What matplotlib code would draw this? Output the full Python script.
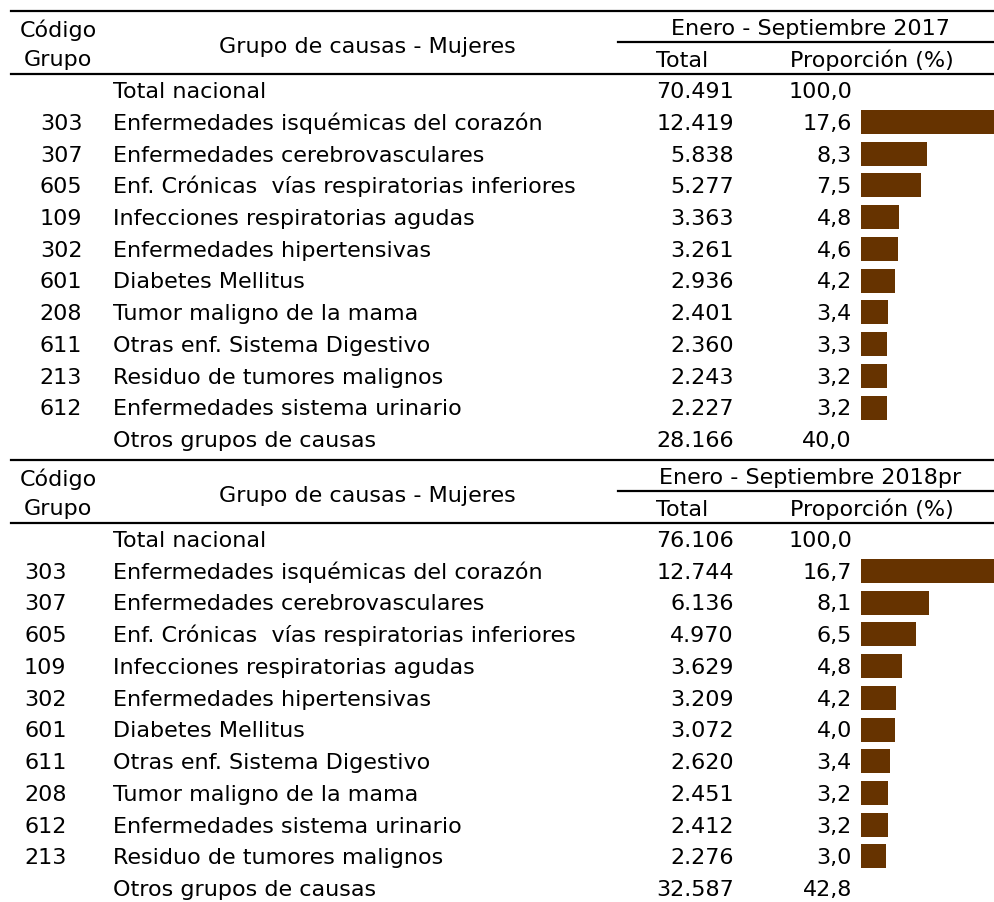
import matplotlib
matplotlib.use("Agg")
import matplotlib.pyplot as plt

# data
causes_2017 = ["Total nacional", "Enfermedades isquémicas del corazón", "Enfermedades cerebrovasculares",
               "Enf. Crónicas  vías respiratorias inferiores", "Infecciones respiratorias agudas",
               "Enfermedades hipertensivas", "Diabetes Mellitus", "Tumor maligno de la mama",
               "Otras enf. Sistema Digestivo", "Residuo de tumores malignos",
               "Enfermedades sistema urinario", "Otros grupos de causas"]
codes_2017 = ["", "303", "307", "605", "109", "302", "601", "208", "611", "213", "612", ""]
totals_2017 = [70491, 12419, 5838, 5277, 3363, 3261, 2936, 2401, 2360, 2243, 2227, 28166]
props_2017 = [100.0, 17.6, 8.3, 7.5, 4.8, 4.6, 4.2, 3.4, 3.3, 3.2, 3.2, 40.0]

causes_2018 = ["Total nacional", "Enfermedades isquémicas del corazón", "Enfermedades cerebrovasculares",
               "Enf. Crónicas  vías respiratorias inferiores", "Infecciones respiratorias agudas",
               "Enfermedades hipertensivas", "Diabetes Mellitus", "Otras enf. Sistema Digestivo",
               "Tumor maligno de la mama", "Enfermedades sistema urinario",
               "Residuo de tumores malignos", "Otros grupos de causas"]
codes_2018 = ["", "303", "307", "605", "109", "302", "601", "611", "208", "612", "213", ""]
totals_2018 = [76106, 12744, 6136, 4970, 3629, 3209, 3072, 2620, 2451, 2412, 2276, 32587]
props_2018 = [100.0, 16.7, 8.1, 6.5, 4.8, 4.2, 4.0, 3.4, 3.2, 3.2, 3.0, 42.8]

plt.rcParams['font.family'] = ['DejaVu Sans']
FS = 16
BAR = '#663300'

fig = plt.figure(figsize=(9.94, 9.03), dpi=100)
ax = fig.add_axes([0, 0, 1, 1])
ax.set_xlim(0, 994)
ax.set_ylim(903, 0)
ax.axis('off')


def fmt_total(n):
    return f"{n:,}".replace(",", ".")


def fmt_prop(p):
    return f"{p:.1f}".replace(".", ",")


def draw_table(y0, period, codes, causes, totals, props, code_left):
    # header lines
    ax.plot([11, 994], [y0, y0], color='black', lw=1.6)
    ax.plot([618, 994], [y0 + 31, y0 + 31], color='black', lw=1.6)
    ax.plot([11, 994], [y0 + 63, y0 + 63], color='black', lw=1.6)
    ax.text(58, y0 + 25, "Código", ha='center', va='baseline', fontsize=FS)
    ax.text(58, y0 + 54, "Grupo", ha='center', va='baseline', fontsize=FS)
    ax.text(367, y0 + 41, "Grupo de causas - Mujeres", ha='center', va='baseline', fontsize=FS)
    ax.text(810, y0 + 23, period, ha='center', va='baseline', fontsize=FS)
    ax.text(682, y0 + 55, "Total", ha='center', va='baseline', fontsize=FS)
    ax.text(872, y0 + 55, "Proporción (%)", ha='center', va='baseline', fontsize=FS)

    step = 31.75
    bar_max = max(props[1:-1])
    for i in range(len(causes)):
        yc = y0 + 78 + i * step
        yb = yc + 8
        if codes[i]:
            if code_left:
                ax.text(24, yb, codes[i], ha='left', va='baseline', fontsize=FS)
            else:
                ax.text(61, yb, codes[i], ha='center', va='baseline', fontsize=FS)
        ax.text(113, yb, causes[i], ha='left', va='baseline', fontsize=FS)
        ax.text(734, yb, fmt_total(totals[i]), ha='right', va='baseline', fontsize=FS)
        ax.text(852, yb, fmt_prop(props[i]), ha='right', va='baseline', fontsize=FS)
        if 0 < i < len(causes) - 1:
            ax.barh(yc + 1, props[i] / bar_max * 141, left=861, height=24,
                    color=BAR, edgecolor='none')


draw_table(12, "Enero - Septiembre 2017", codes_2017, causes_2017, totals_2017, props_2017, False)
draw_table(461, "Enero - Septiembre 2018pr", codes_2018, causes_2018, totals_2018, props_2018, True)

fig.savefig("out.png", dpi=100)
